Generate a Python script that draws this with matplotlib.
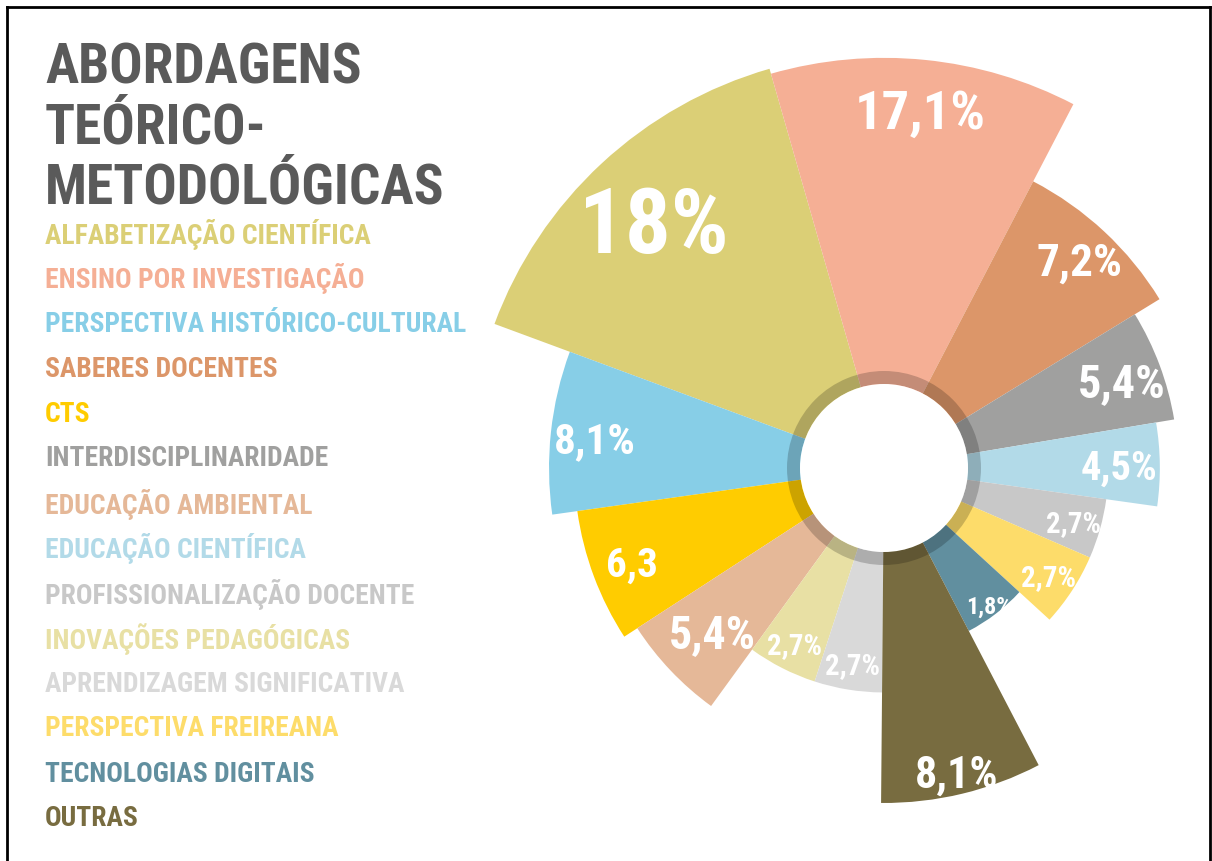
import os
import numpy as np
import matplotlib
matplotlib.use('Agg')
import matplotlib.pyplot as plt
from matplotlib import font_manager
from matplotlib.font_manager import FontProperties
from matplotlib.patches import Circle, Wedge
from matplotlib.lines import Line2D

# ---- data (legend order) ----
title_lines = ['ABORDAGENS', 'TEÓRICO-', 'METODOLÓGICAS']
categories = ['ALFABETIZAÇÃO CIENTÍFICA', 'ENSINO POR INVESTIGAÇÃO',
              'PERSPECTIVA HISTÓRICO-CULTURAL', 'SABERES DOCENTES', 'CTS',
              'INTERDISCIPLINARIDADE', 'EDUCAÇÃO AMBIENTAL', 'EDUCAÇÃO CIENTÍFICA',
              'PROFISSIONALIZAÇÃO DOCENTE', 'INOVAÇÕES PEDAGÓGICAS',
              'APRENDIZAGEM SIGNIFICATIVA', 'PERSPECTIVA FREIREANA',
              'TECNOLOGIAS DIGITAIS', 'OUTRAS']
values = [18, 17.1, 8.1, 7.2, 6.3, 5.4, 5.4, 4.5, 2.7, 2.7, 2.7, 2.7, 1.8, 8.1]
value_labels = ['18%', '17,1%', '8,1%', '7,2%', '6,3', '5,4%', '5,4%', '4,5%',
                '2,7%', '2,7%', '2,7%', '2,7%', '1,8%', '8,1%']
colors = ['#DBCF76', '#F5AF95', '#87CEE7', '#DC9669', '#FFCC00', '#A0A09F',
          '#E5B898', '#B2DAE8', '#C8C8C8', '#E8E0A4', '#D9D9D9', '#FDDC6A',
          '#618F9F', '#786C40']

# ---- layout ----
sector_deg = [(106, 159.7), (62.5, 106), (159.7, 188), (31.5, 62.5), (188, 213),
              (9.5, 31.5), (213, 234), (-8, 9.5), (-23.5, -8), (234, 252),
              (252, 269.5), (-42.5, -23.5), (-62.5, -42.5), (269.5, 297.5)]
label_r = [339, 361, 291, 286, 269, 254, 236, 235, 197, 197, 198, 196, 172, 312]
label_cap = [70, 50, 33, 35, 33, 35, 33, 30, 24, 23, 23, 23, 18, 32]
label_w = [150, 131, 82, 86, 52, 88, 90, 77, 55, 55, 55, 55, 46, 84]

W, H = 1212, 861
CX, CY = 884, 468          # centre of the rose, pixels
P0, PMAX = 0.29, 20        # radial (log) limits
PX_PER_LOG = 100.6
R_AX = PX_PER_LOG * np.log(PMAX / P0)


def pick_font():
    prefs = ['notosans-extracondensedbold', 'robotocondensed-bold',
             'notosans-condensedbold', 'liberationsansnarrow-bold',
             'opensans-condbold', 'dejavusanscondensed-bold', 'dejavusans-bold']
    files = {}
    for f in font_manager.fontManager.ttflist:
        files[os.path.basename(f.fname).lower().rsplit('.', 1)[0]] = f.fname
    for p in prefs:
        if p in files:
            return FontProperties(fname=files[p])
    return FontProperties(family='DejaVu Sans', weight='bold')


bold = pick_font()

fig = plt.figure(figsize=(W / 100, H / 100), dpi=100)
fig.patch.set_facecolor('white')
renderer = fig.canvas.get_renderer()


def fx(px):
    return px / W


def fy(py):
    return 1 - py / H


def fit_group(texts, cap, width):
    for t in texts:
        t.set_fontsize(cap)
    w = max(t.get_window_extent(renderer).width for t in texts)
    if w > width:
        for t in texts:
            t.set_fontsize(cap * width / w)


# title
title_txt = [fig.text(fx(45), fy(83 + 60 * i), s, fontproperties=bold,
                      color='#5A5A5A', ha='left', va='baseline')
             for i, s in enumerate(title_lines)]
fit_group(title_txt, 47, 400)

# legend
leg_txt = [fig.text(fx(45), fy(231 + 45 * i), s, fontproperties=bold,
                    color=c, ha='left', va='center_baseline')
           for i, (s, c) in enumerate(zip(categories, colors))]
fit_group(leg_txt, 24, 422)

# rose
ax = fig.add_axes([(CX - R_AX) / W, (H - CY - R_AX) / H, 2 * R_AX / W, 2 * R_AX / H],
                  projection='polar')
ax.set_rscale('log')
lo = np.deg2rad([s[0] for s in sector_deg])
wd = np.deg2rad([s[1] - s[0] for s in sector_deg])
ax.bar(lo, np.array(values) - P0, width=wd, bottom=P0, align='edge',
       color=colors, linewidth=0)
ax.set_rlim(P0, PMAX)
ax.axis('off')

ring_out = 0.5 * 97 / R_AX
ring_in = 0.5 * 84 / R_AX
ax.add_patch(Wedge((0.5, 0.5), ring_out, 0, 360, width=ring_out - ring_in,
                   transform=ax.transAxes, facecolor='black', alpha=0.2,
                   linewidth=0, zorder=3))
ax.add_patch(Circle((0.5, 0.5), ring_in, transform=ax.transAxes,
                    facecolor='white', linewidth=0, zorder=4))

for i, s in enumerate(value_labels):
    th = np.deg2rad(sum(sector_deg[i]) / 2)
    r = P0 * np.exp(label_r[i] / PX_PER_LOG)
    t = ax.text(th, r, s, fontproperties=bold, color='white',
                ha='center', va='center_baseline', zorder=5)
    fit_group([t], label_cap[i], label_w[i])

# frame
for xs, ys in [([7, 1210], [7, 7]), ([7, 7], [7, 861]), ([1210, 1210], [7, 861])]:
    fig.add_artist(Line2D([fx(x) for x in xs], [fy(y) for y in ys],
                          color='black', linewidth=2, transform=fig.transFigure))

fig.savefig('out.png', dpi=100, facecolor='white')
